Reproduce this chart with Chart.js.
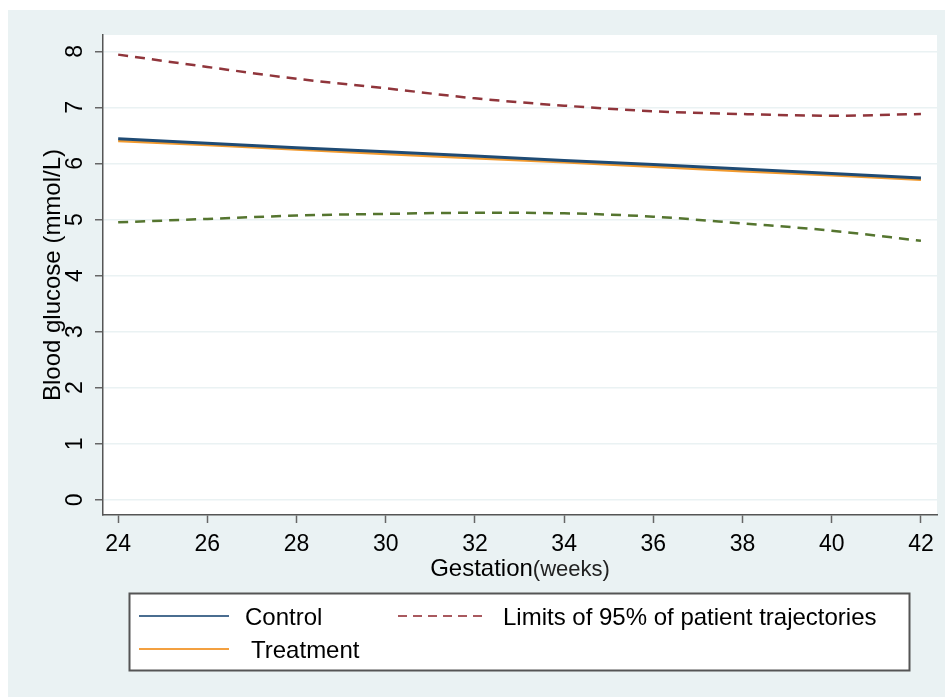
<!DOCTYPE html>
<html>
<head>
<meta charset="utf-8">
<script src="https://cdn.jsdelivr.net/npm/chart.js@4"></script>
<style>
html,body{margin:0;padding:0;background:#fff;}
#wrap{width:945px;height:697px;}
</style>
</head>
<body>
<div id="wrap"><canvas id="c" width="945" height="697"></canvas></div>
<script>
// ---- data ----
const weeks = [24, 26, 28, 30, 32, 34, 36, 38, 40, 42];
const control = [6.44, 6.36, 6.28, 6.21, 6.13, 6.05, 5.98, 5.90, 5.82, 5.74];
const treatment = [6.40, 6.33, 6.25, 6.17, 6.09, 6.02, 5.94, 5.86, 5.79, 5.71];
const upperLimit = [7.94, 7.72, 7.51, 7.34, 7.16, 7.03, 6.93, 6.88, 6.85, 6.88];
const lowerLimit = [4.95, 5.01, 5.07, 5.10, 5.12, 5.11, 5.05, 4.93, 4.80, 4.62];
const xTicks = [24, 26, 28, 30, 32, 34, 36, 38, 40, 42];
const yTicks = [0, 1, 2, 3, 4, 5, 6, 7, 8];
const yTitle = 'Blood glucose (mmol/L)';
const xTitleMain = 'Gestation';
const xTitleUnit = '(weeks)';
const legendLabels = ['Control', 'Treatment', 'Limits of 95% of patient trajectories'];

const FONT = "'Liberation Sans', Arial, Helvetica, sans-serif";
const colors = {control:'#1f4b74', treatment:'#f29a2e', upper:'#90353b', lower:'#55752f'};

const pts = arr => weeks.map((w, i) => ({x: w, y: arr[i]}));

const bgPlugin = {
  id: 'bg',
  beforeDraw(chart) {
    const ctx = chart.ctx, a = chart.chartArea;
    ctx.save();
    ctx.fillStyle = '#ffffff';
    ctx.fillRect(0, 0, chart.width, chart.height);
    ctx.fillStyle = '#eaf2f3';
    ctx.fillRect(8, 10, chart.width - 8, chart.height - 10);
    ctx.fillStyle = '#ffffff';
    ctx.fillRect(a.left, a.top, a.right - a.left, a.bottom - a.top);
    ctx.restore();
  }
};

const textPlugin = {
  id: 'texts',
  afterDraw(chart) {
    const ctx = chart.ctx, a = chart.chartArea;
    const ys = chart.scales.y;
    ctx.save();
    // y tick labels (rotated)
    ctx.fillStyle = '#000';
    ctx.font = '23px ' + FONT;
    ctx.textAlign = 'center';
    ctx.textBaseline = 'alphabetic';
    yTicks.forEach(v => {
      const py = ys.getPixelForValue(v);
      ctx.save();
      ctx.translate(82, py);
      ctx.rotate(-Math.PI / 2);
      ctx.fillText(String(v), 0, 0);
      ctx.restore();
    });
    // y title
    ctx.save();
    ctx.font = '24px ' + FONT;
    ctx.translate(60, (a.top + a.bottom) / 2);
    ctx.rotate(-Math.PI / 2);
    ctx.fillText(yTitle, 0, 0);
    ctx.restore();
    // x title
    ctx.font = '24px ' + FONT;
    const w1 = ctx.measureText(xTitleMain).width;
    ctx.font = '22px ' + FONT;
    const w2 = ctx.measureText(xTitleUnit).width;
    const cx = (a.left + a.right) / 2;
    const sx = cx - (w1 + w2) / 2;
    ctx.textAlign = 'left';
    ctx.font = '24px ' + FONT;
    ctx.fillStyle = '#000';
    ctx.fillText(xTitleMain, sx, 576);
    ctx.font = '22px ' + FONT;
    ctx.fillStyle = '#222';
    ctx.fillText(xTitleUnit, sx + w1, 576);

    // legend
    const lx = 129.5, ly = 593.5, lw = 780, lh = 77;
    ctx.fillStyle = '#fff';
    ctx.fillRect(lx, ly, lw, lh);
    ctx.strokeStyle = '#555';
    ctx.lineWidth = 2;
    ctx.strokeRect(lx, ly, lw, lh);
    const drawItem = (x1, x2, y, color, dash, label, tx) => {
      ctx.beginPath();
      ctx.setLineDash(dash);
      ctx.strokeStyle = color;
      ctx.lineWidth = 2.2;
      ctx.moveTo(x1, y);
      ctx.lineTo(x2, y);
      ctx.stroke();
      ctx.setLineDash([]);
      ctx.fillStyle = '#000';
      ctx.font = '24px ' + FONT;
      ctx.textAlign = 'left';
      ctx.textBaseline = 'alphabetic';
      ctx.fillText(label, tx, y + 9);
    };
    drawItem(139, 229, 616, '#4a6d90', [], legendLabels[0], 245);
    drawItem(139, 229, 649, '#f3a040', [], legendLabels[1], 251);
    drawItem(398, 488, 616, '#a9595e', [9, 6], legendLabels[2], 503);
    ctx.restore();
  }
};

new Chart(document.getElementById('c'), {
  type: 'line',
  data: {
    datasets: [
      {label: legendLabels[2], data: pts(upperLimit), borderColor: colors.upper, borderWidth: 2.5, borderDash: [10, 7], cubicInterpolationMode: 'monotone', pointRadius: 0},
      {label: 'Lower limit', data: pts(lowerLimit), borderColor: colors.lower, borderWidth: 2.5, borderDash: [10, 7], cubicInterpolationMode: 'monotone', pointRadius: 0},
      {label: legendLabels[0], data: pts(control), borderColor: colors.control, borderWidth: 3, pointRadius: 0, tension: 0},
      {label: legendLabels[1], data: pts(treatment), borderColor: colors.treatment, borderWidth: 2.5, pointRadius: 0, tension: 0}
    ]
  },
  options: {
    responsive: false,
    animation: false,
    devicePixelRatio: 1,
    layout: {padding: {left: 0, right: 8, top: 35, bottom: 0}},
    plugins: {legend: {display: false}, tooltip: {enabled: false}},
    scales: {
      x: {
        type: 'linear',
        position: 'bottom',
        min: 23.66,
        max: 42.36,
        afterBuildTicks: s => { s.ticks = xTicks.map(v => ({value: v})); },
        afterFit: s => { s.height = 182; },
        grid: {drawOnChartArea: false, drawTicks: true, tickLength: 8, tickColor: '#666', tickWidth: 1.5},
        border: {display: true, color: '#555', width: 1.5},
        ticks: {color: '#000', font: {family: FONT, size: 23}, padding: 8, maxRotation: 0, minRotation: 0}
      },
      y: {
        type: 'linear',
        position: 'left',
        min: -0.27,
        max: 8.29,
        afterBuildTicks: s => { s.ticks = yTicks.map(v => ({value: v})); },
        afterFit: s => { s.width = 103; },
        grid: {color: '#eaf2f3', lineWidth: 1.5, drawTicks: true, tickLength: 8, tickColor: '#666', tickWidth: 1.5},
        border: {display: true, color: '#555', width: 1.5},
        ticks: {display: false}
      }
    }
  },
  plugins: [bgPlugin, textPlugin]
});
</script>
</body>
</html>
